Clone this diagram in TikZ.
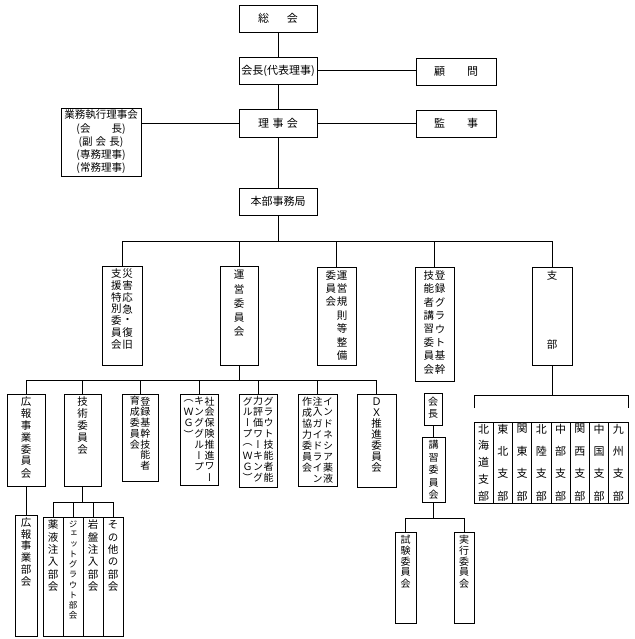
\documentclass[tikz,border=0pt]{standalone}
\usepackage{fontspec}
\newfontfamily\jp{Noto Sans CJK JP}
\newfontfamily\jpv[RawFeature=+vert]{Noto Sans CJK JP}
\usetikzlibrary{calc}
\makeatletter
\newcommand\vcol[2][12pt]{\vtop{\offinterlineskip\hbox{}\@tfor\vc@c:=#2\do{\hbox to 1.05em{\hss\vbox to #1{\vss\hbox{\vc@c}\vss}\hss}}}}
\makeatother
\newcommand\bx[7][]{\node[box,#1,minimum width={(#5-#3)*1pt},minimum height={(#6-#4)*1pt}] (#2) at ({(#3+#5)/2},{(#4+#6)/2}) {#7};}
\newcommand\vt[5][10.5]{\node[vt,font=\jpv\fontsize{#1}{#1}\selectfont] (#2) at ($(#3.north)+(0,#4)$) {#5};}
\begin{document}
\begin{tikzpicture}[x=1pt,y=-1pt,
  box/.style={draw,line width=0.9pt,inner sep=0pt,font=\jp\fontsize{11}{13}\selectfont,align=center},
  conn/.style={line width=0.75pt},
  vt/.style={inner sep=0pt,anchor=north},
  brtext/.style={inner sep=0pt,font=\jpv\fontsize{11}{11}\selectfont}]
\useasboundingbox (0,0) rectangle (634,639);
\fill[white] (0,0) rectangle (634,639);
% top
\bx{soukai}{239}{5}{317}{32}{総\hspace{1.6em}会}
\bx{kaicho}{239}{57}{317}{84}{会長(代表理事)}
\bx{komon}{416}{58}{496}{85}{顧\hspace{2em}問}
\bx{rijikai}{239}{109}{317}{137}{理\hspace{0.3em}事\hspace{0.3em}会}
\bx{kanji}{416}{110}{496}{137}{監\hspace{2em}事}
\bx[font=\jp\fontsize{10.5}{13.2}\selectfont]{gyomu}{61}{108}{141}{176}{業務執行理事会\\(会\hspace{2em}長)\\(副\hspace{0.3em}会\hspace{0.3em}長)\\(専務理事)\\(常務理事)}
\bx{honbu}{239}{188}{317}{215}{本部事務局}
\draw[conn] (soukai.south) -- (kaicho.north);
\draw[conn] (kaicho.east) -- (kaicho.east -| komon.west);
\draw[conn] (kaicho.south) -- (rijikai.north);
\draw[conn] (rijikai.east) -- (rijikai.east -| kanji.west);
\draw[conn] (rijikai.west) -- (rijikai.west -| gyomu.east);
\draw[conn] (rijikai.south) -- (honbu.north);
% row 1
\bx{saigai}{102}{266}{142}{365}{}
\bx{unei}{220}{266}{258}{365}{}
\bx{kisoku}{317}{267}{356}{365}{}
\bx{touroku}{415}{267}{454}{381}{}
\bx{shibu}{532}{267}{572}{365}{}
\coordinate (bus1) at (278,241);
\draw[conn] (honbu.south) -- (bus1);
\draw[conn] (saigai.north) -- (saigai.north |- bus1) -- (shibu.north |- bus1) -- (shibu.north);
\foreach \n in {unei,kisoku,touroku} \draw[conn] (\n.north) -- (\n.north |- bus1);
\vt{ts1}{saigai}{2}{\vcol[11.8pt]{支援特別委員会}\vcol[11.8pt]{災害応急・復旧}}
\vt{ts2}{unei}{2}{\vcol[14.2pt]{運営委員会}}
\vt{ts3}{kisoku}{2}{\vcol[13.3pt]{委員会}\vcol[13.3pt]{運営規則等整備}}
\vt{ts4}{touroku}{2}{\vcol[13.4pt]{技能者講習委員会}\vcol[13.4pt]{登録グラウト基幹}}
\vt{ts5}{shibu}{2}{\vcol[13.8pt]{支{}{}{}{}部}}
% row 2
\bx{kouhou}{7}{394}{45}{486}{}
\bx{gijutsu}{64}{394}{101}{486}{}
\bx{ikusei}{122}{394}{158}{481}{}
\bx{shakai}{180}{394}{218}{485}{}
\bx{grout}{239}{394}{277}{487}{}
\bx{indo}{298}{394}{337}{486}{}
\bx{dx}{357}{394}{396}{487}{}
\coordinate (bus2) at (239,380);
\draw[conn] (unei.south) -- (bus2);
\draw[conn] (kouhou.north) -- (kouhou.north |- bus2) -- (dx.north |- bus2) -- (dx.north);
\foreach \n in {gijutsu,ikusei,shakai,grout,indo} \draw[conn] (\n.north) -- (\n.north |- bus2);
\vt{tr1}{kouhou}{2}{\vcol[11.9pt]{広報事業委員会}}
\vt{tr2}{gijutsu}{2}{\vcol[11.9pt]{技術委員会}}
\vt[10]{tr3}{ikusei}{2}{\vcol[10.8pt]{育成委員会}\vcol[10.8pt]{登録基幹技能者}}
\vt[10]{tr4}{shakai}{2}{\vcol[10.9pt]{（ＷＧ）}\vcol[10.9pt]{キンググループ}\vcol[10.9pt]{社会保険推進ワー}}
\vt[10]{tr5}{grout}{2}{\vcol[10.9pt]{グループ（ＷＧ）}\vcol[10.9pt]{力評価ワーキング}\vcol[10.9pt]{グラウト技能者能}}
\vt[10]{tr6}{indo}{2}{\vcol[11.1pt]{作成協力委員会}\vcol[11.1pt]{注入ガイドライン}\vcol[11.1pt]{インドネシア薬液}}
\vt{tr7}{dx}{2}{\vcol[11pt]{ＤＸ推進委員会}}
% row 3 (gijutsu / kouhou)
\bx{kbukai}{15}{515}{37}{636}{}
\bx{yakueki}{43}{517}{63}{636}{}
\bx{jet}{63}{517}{83}{636}{}
\bx{ganban}{83}{517}{103}{636}{}
\bx{sonota}{103}{517}{123}{636}{}
\draw[conn] (kouhou.south) -- (kouhou.south |- kbukai.north);
\coordinate (bus3) at (83,502);
\draw[conn] (gijutsu.south) -- (gijutsu.south |- bus3);
\draw[conn] (yakueki.north) -- (yakueki.north |- bus3) -- (sonota.north |- bus3) -- (sonota.north);
\foreach \n in {jet,ganban} \draw[conn] (\n.north) -- (\n.north |- bus3);
\vt{tk1}{kbukai}{2}{\vcol[11.7pt]{広報事業部会}}
\vt{tk2}{yakueki}{2}{\vcol[12.4pt]{薬液注入部会}}
\vt[8.5]{tk3}{jet}{2}{\vcol[10.2pt]{ジェットグラウト部会}}
\vt{tk4}{ganban}{2}{\vcol[12.4pt]{岩盤注入部会}}
\vt{tk5}{sonota}{2}{\vcol[12.4pt]{その他の部会}}
% touroku subs
\bx{kaicho2}{424}{393}{442}{425}{}
\bx{koushu}{422}{437}{445}{502}{}
\bx{shiken}{395}{532}{416}{623}{}
\bx{jikkou}{454}{532}{474}{623}{}
\draw[conn] (kaicho2.south) -- (kaicho2.south |- koushu.north);
\coordinate (bus4) at (434,518);
\draw[conn] (koushu.south) -- (koushu.south |- bus4);
\draw[conn] (shiken.north) -- (shiken.north |- bus4) -- (jikkou.north |- bus4) -- (jikkou.north);
\vt[10]{tk6}{kaicho2}{2}{\vcol[13pt]{会長}}
\vt[10]{tk7}{koushu}{2}{\vcol[12.5pt]{講習委員会}}
\vt[10]{tk8}{shiken}{2}{\vcol[11pt]{試験委員会}}
\vt[10]{tk9}{jikkou}{2}{\vcol[11pt]{実行委員会}}
% shibu branches
\coordinate (brT) at (552,395);
\coordinate (brL) at (474,408);
\coordinate (brR) at (628,408);
\draw[conn] (shibu.south) -- (brT);
\draw[conn] (brL) -- (brL |- brT) -- (brR |- brT) -- (brR);
\bx{br1}{474}{422}{493.25}{503}{}
\bx{br2}{493.25}{422}{512.5}{503}{}
\bx{br3}{512.5}{422}{531.75}{503}{}
\bx{br4}{531.75}{422}{551}{503}{}
\bx{br5}{551}{422}{570.25}{503}{}
\bx{br6}{570.25}{422}{589.5}{503}{}
\bx{br7}{589.5}{422}{608.75}{503}{}
\bx{br8}{608.75}{422}{628}{503}{}
\node[brtext] (tb1) at (br1.center) {\vcol[16.75pt]{北海道支部}};
\node[brtext] (tb2) at (br2.center) {\vcol[22.3pt]{東北支部}};
\node[brtext] (tb3) at (br3.center) {\vcol[22.3pt]{関東支部}};
\node[brtext] (tb4) at (br4.center) {\vcol[22.3pt]{北陸支部}};
\node[brtext] (tb5) at (br5.center) {\vcol[22.3pt]{中部支部}};
\node[brtext] (tb6) at (br6.center) {\vcol[22.3pt]{関西支部}};
\node[brtext] (tb7) at (br7.center) {\vcol[22.3pt]{中国支部}};
\node[brtext] (tb8) at (br8.center) {\vcol[22.3pt]{九州支部}};
\end{tikzpicture}
\end{document}
